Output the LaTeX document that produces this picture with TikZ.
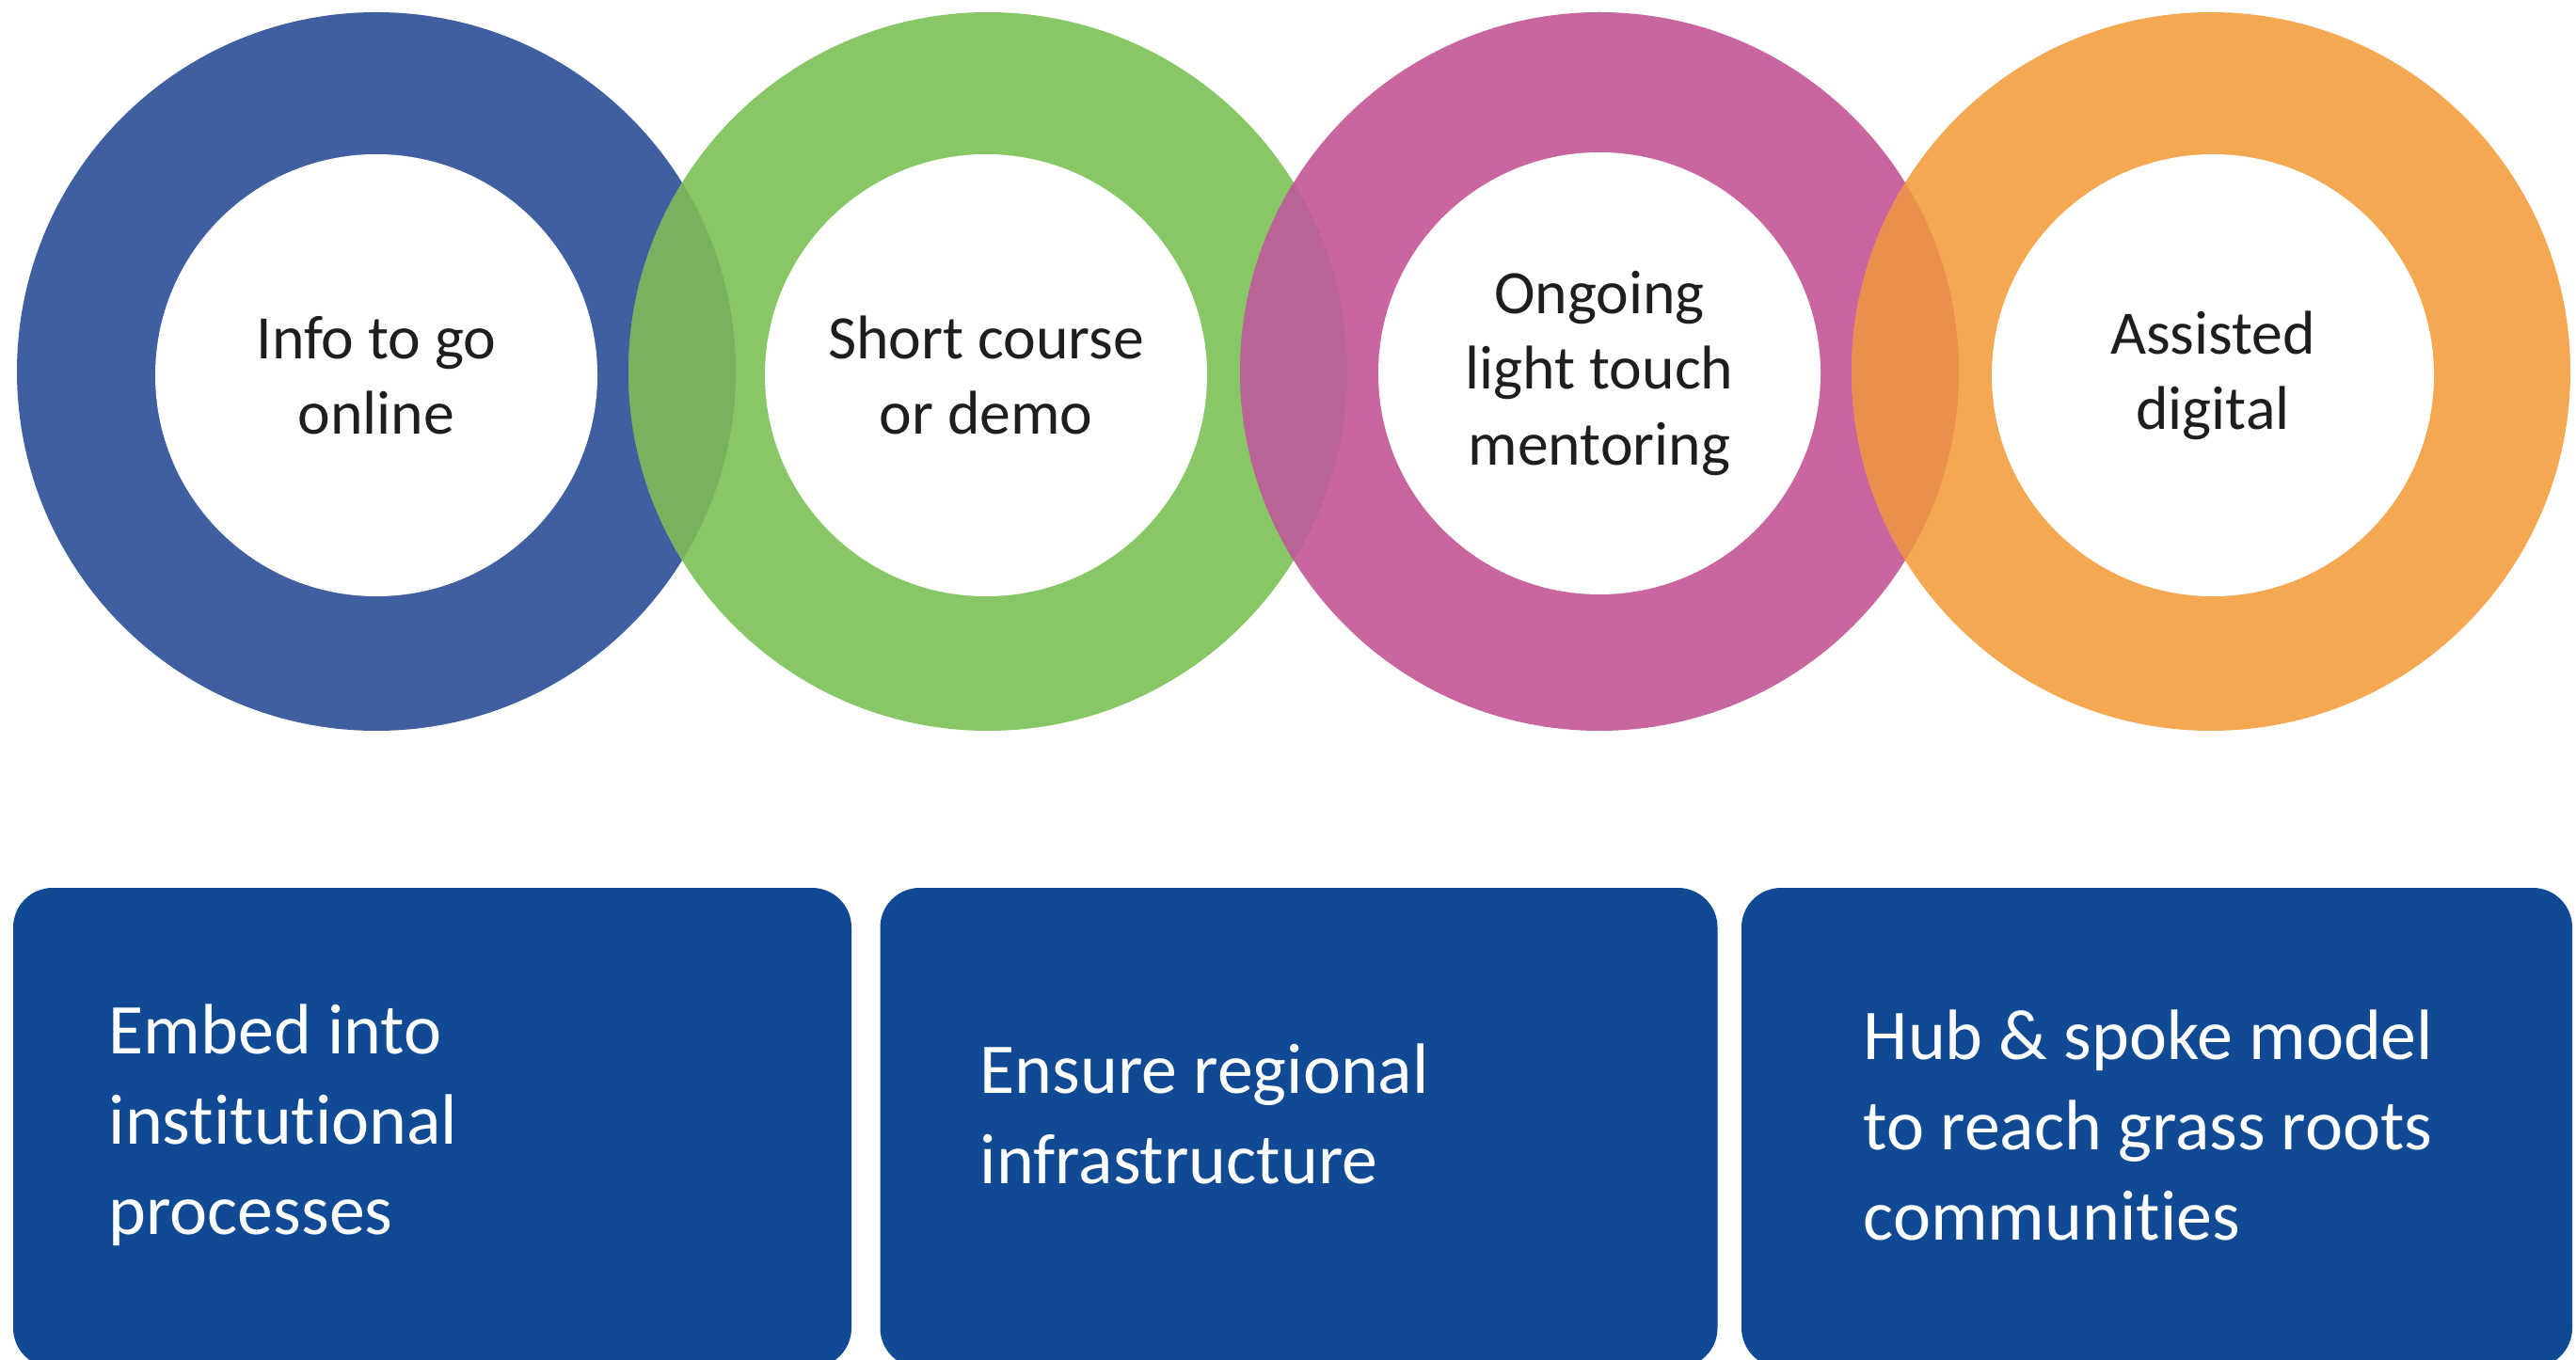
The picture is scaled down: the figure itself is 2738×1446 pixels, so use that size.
\documentclass[tikz,border=0pt]{standalone}
\usepackage{fontspec}
\setmainfont[Ligatures={NoCommon,NoDiscretionary,NoContextual}]{Carlito}
\definecolor{ringA}{RGB}{63,95,160}
\definecolor{ringB}{RGB}{136,199,102}
\definecolor{ringC}{RGB}{201,102,160}
\definecolor{ringD}{RGB}{244,168,82}
\definecolor{lapAB}{RGB}{120,178,94}
\definecolor{lapBC}{RGB}{185,100,148}
\definecolor{lapCD}{RGB}{234,143,78}
\definecolor{boxblue}{RGB}{17,74,148}
\definecolor{txtdark}{RGB}{30,30,30}
\tikzset{
  outerring/.style={circle, minimum size=76.4mm, inner sep=0pt, draw=none},
  innerhole/.style={circle, minimum size=47mm, inner sep=0pt, fill=white, draw=none,
     text=txtdark, align=center, font=\fontsize{18.7pt}{22.8pt}\selectfont},
  panel/.style={rectangle, rounded corners=4.2mm, fill=boxblue, draw=none, inner sep=0pt},
  paneltext/.style={anchor=west, inner sep=0pt, align=left, text=white,
     font=\fontsize{21.6pt}{27.3pt}\selectfont}
}
\begin{document}
\begin{tikzpicture}[x=0.1mm, y=-0.1mm]
\useasboundingbox (0,0) rectangle (2738,1446);
% outer discs
\node[outerring, fill=ringA] (oA) at (400,395) {};
\node[outerring, fill=ringB] (oB) at (1050,395) {};
\node[outerring, fill=ringC] (oC) at (1700,395) {};
\node[outerring, fill=ringD] (oD) at (2350,395) {};
% overlaps
\begin{scope}
  \clip (400,395) circle (38.2mm);
  \fill[lapAB] (1050,395) circle (38.2mm);
\end{scope}
\begin{scope}
  \clip (1050,395) circle (38.2mm);
  \fill[lapBC] (1700,395) circle (38.2mm);
\end{scope}
\begin{scope}
  \clip (1700,395) circle (38.2mm);
  \fill[lapCD] (2350,395) circle (38.2mm);
\end{scope}
% inner holes with labels
\node[innerhole] (iA) at (400,399) {Info to go\\online};
\node[innerhole] (iB) at (1048,399) {Short course\\or demo};
\node[innerhole] (iC) at (1700,397) {Ongoing\\light touch\\mentoring};
\node[innerhole] (iD) at (2352,399) {Assisted\\digital};
% panels
\node[panel, minimum width=89.1mm, minimum height=51mm] (pA) at (459.5,1199) {};
\node[panel, minimum width=89.0mm, minimum height=51mm] (pB) at (1380.5,1199) {};
\node[panel, minimum width=88.3mm, minimum height=51mm] (pC) at (2292.5,1199) {};
\node[paneltext] (tA) at (115,1196) {Embed into\\institutional\\processes};
\node[paneltext] (tB) at (1041,1184) {Ensure regional\\infrastructure};
\node[paneltext] (tC) at (1980,1196) {Hub \& spoke model\\to reach grass roots\\communities};
\end{tikzpicture}
\end{document}
